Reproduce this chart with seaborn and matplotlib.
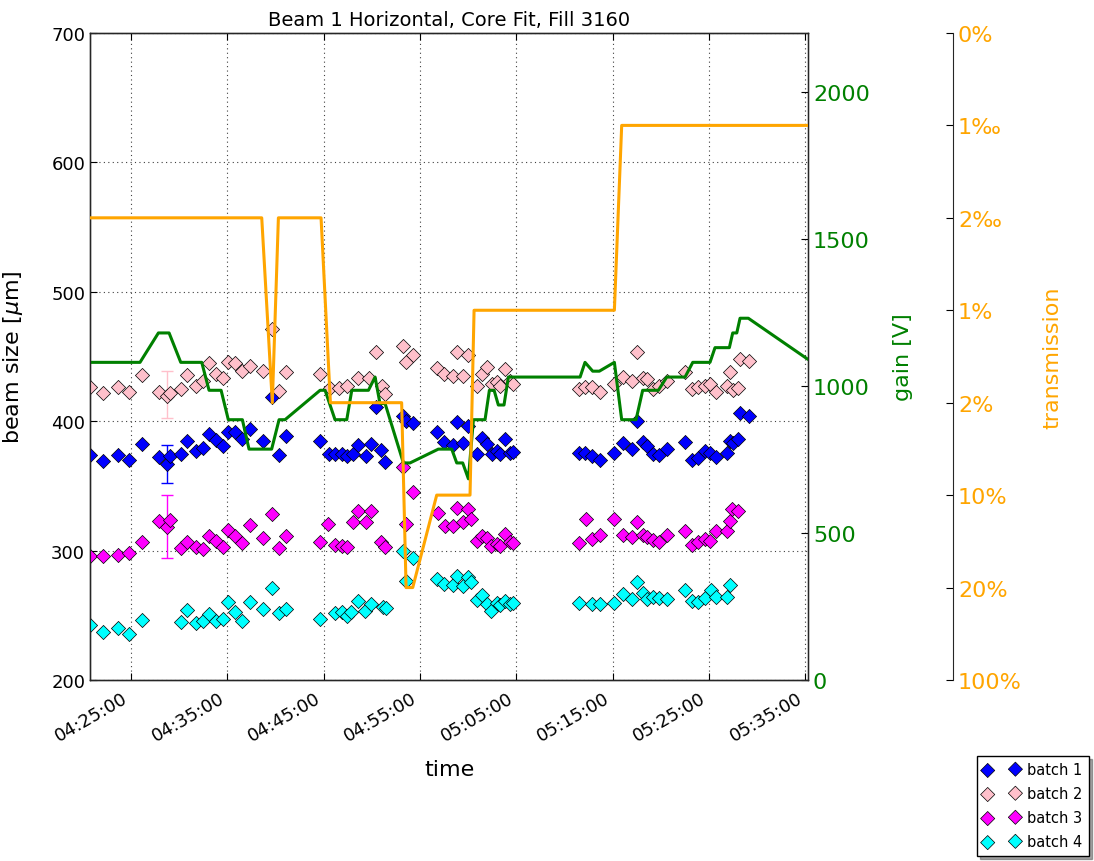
import numpy as np
import pandas as pd
import matplotlib
matplotlib.use("Agg")
import matplotlib.pyplot as plt
import matplotlib.dates as mdates
import seaborn as sns

# ---------------------------------------------------------------- data
START = pd.Timestamp("2012-10-15 04:25:00")

# minutes after 04:25:00 and fitted core beam size [um] per batch
b1_min = [-4.26, -2.87, -1.38, -0.20, 1.11, 2.90, 3.77, 4.05, 5.16, 5.85, 6.75, 7.44,
          8.13, 8.83, 9.52, 10.04, 10.80, 11.56, 12.36, 13.67, 14.60, 15.37, 16.10,
          19.63, 20.60, 21.18, 21.87, 22.40, 23.02, 23.60, 24.37, 24.92, 25.44, 25.96,
          26.38, 28.21, 28.56, 29.32, 31.81, 32.50, 33.47, 33.89, 34.51, 35.03, 35.90,
          36.42, 36.94, 37.46, 37.98, 38.32, 38.84, 39.36, 39.70, 46.55, 47.14, 47.84,
          48.70, 50.19, 51.06, 51.99, 52.58, 53.20, 53.62, 54.24, 54.86, 55.69, 57.53,
          58.22, 58.91, 59.60, 60.12, 60.75, 61.86, 62.20, 62.55, 63.06, 63.24, 64.21]
b1_size = [373.9, 369.5, 373.9, 370.2, 382.0, 372.0, 367.0, 372.9, 374.9, 384.7, 377.0, 379.0,
           390.0, 385.7, 380.6, 391.4, 391.9, 386.2, 394.0, 384.7, 418.4, 373.9, 388.8,
           384.7, 374.7, 374.7, 374.7, 372.9, 374.7, 381.9, 373.4, 382.4, 410.7, 378.0,
           368.7, 404.2, 400.4, 398.3, 391.4, 383.7, 381.9, 399.1, 383.2, 396.5, 374.7,
           386.8, 382.4, 374.7, 377.2, 374.7, 386.3, 375.2, 376.5, 375.2, 375.2, 373.4,
           370.0, 375.2, 382.9, 378.5, 399.9, 384.2, 381.1, 374.7, 374.1, 378.5, 384.2,
           370.0, 371.3, 376.7, 375.4, 372.6, 375.2, 384.9, 383.2, 386.2, 406.3, 403.7]

b2_min = [-4.26, -2.87, -1.38, -0.20, 1.11, 2.90, 3.77, 4.05, 5.16, 5.85, 6.75, 7.44,
          8.13, 8.83, 9.52, 10.04, 10.80, 11.56, 12.36, 13.67, 14.60, 15.37, 16.10,
          19.63, 20.70, 21.55, 22.40, 23.60, 24.75, 25.44, 26.10, 26.38, 28.21, 28.56,
          29.32, 31.81, 32.50, 33.47, 33.89, 34.51, 35.03, 35.90, 36.42, 36.94, 37.46,
          37.98, 38.32, 38.84, 39.36, 39.70, 46.55, 47.14, 47.84, 48.70, 50.19, 51.06,
          51.99, 52.58, 53.20, 53.62, 54.24, 54.86, 55.69, 57.53, 58.22, 58.91, 59.60,
          60.12, 60.75, 61.86, 62.20, 62.55, 63.06, 63.24, 64.21]
b2_size = [426.2, 421.8, 426.2, 422.8, 435.7, 422.8, 419.7, 421.8, 424.9, 435.7, 427.4, 431.3,
           444.7, 436.5, 433.2, 446.0, 444.7, 439.0, 442.9, 439.0, 471.3, 423.6, 437.8,
           436.5, 425.4, 425.4, 427.4, 433.4, 433.4, 453.8, 427.0, 421.0, 458.4, 445.6,
           450.8, 440.9, 436.5, 435.2, 453.8, 434.7, 450.8, 427.4, 436.5, 441.7, 428.7,
           430.0, 427.0, 440.3, 431.3, 428.7, 424.9, 426.2, 426.2, 422.8, 428.7, 433.9,
           431.3, 453.8, 433.2, 432.6, 424.9, 427.0, 431.3, 438.3, 424.9, 426.2, 427.0,
           428.7, 422.8, 427.4, 437.8, 424.3, 425.4, 448.1, 446.8]

b3_min = [-4.26, -2.87, -1.38, -0.20, 1.11, 2.90, 3.77, 4.05, 5.16, 5.85, 6.75, 7.44,
          8.13, 8.83, 9.52, 10.04, 10.80, 11.56, 12.36, 13.67, 14.60, 15.37, 16.10,
          19.63, 20.50, 21.18, 21.87, 22.40, 23.02, 23.60, 24.37, 24.92, 25.96, 26.38,
          28.21, 28.56, 29.32, 31.91, 32.60, 33.47, 33.89, 34.51, 35.03, 35.28, 35.90,
          36.42, 36.94, 37.36, 37.98, 38.32, 38.84, 39.36, 39.70, 46.55, 47.21, 47.84,
          48.70, 50.19, 51.06, 51.99, 52.58, 53.20, 53.62, 54.24, 54.86, 55.69, 57.53,
          58.22, 58.91, 59.60, 60.12, 60.75, 61.86, 62.20, 62.37, 63.06]
b3_size = [296.1, 295.6, 296.6, 297.9, 306.4, 322.6, 318.0, 323.6, 301.8, 306.9, 303.0, 301.2,
           311.0, 307.2, 302.5, 316.2, 311.0, 305.6, 320.0, 309.7, 328.3, 302.0, 311.0,
           306.4, 320.6, 304.3, 303.8, 302.5, 322.3, 330.8, 321.8, 330.3, 306.4, 302.5,
           364.4, 320.6, 345.5, 329.1, 318.8, 318.8, 332.9, 321.8, 332.1, 324.4, 307.7,
           311.6, 309.6, 303.8, 305.1, 303.8, 312.8, 306.4, 305.6, 305.6, 324.4, 309.0,
           312.0, 324.4, 312.3, 310.7, 321.8, 312.0, 310.7, 308.4, 306.9, 312.0, 315.4,
           304.3, 306.9, 309.0, 307.7, 314.9, 314.9, 323.1, 332.1, 330.8]

b4_min = [-4.26, -2.87, -1.38, -0.20, 1.11, 5.16, 5.85, 6.75, 7.44, 8.13, 8.83, 9.52,
          10.04, 10.80, 11.56, 12.36, 13.67, 14.60, 15.37, 16.10, 19.63, 21.18, 21.87,
          22.40, 22.86, 23.60, 24.30, 24.92, 26.20, 26.48, 28.21, 28.56, 29.32, 31.81,
          32.50, 33.47, 33.89, 34.51, 35.03, 35.28, 35.90, 36.42, 36.94, 37.36, 37.98,
          38.32, 38.84, 39.36, 39.70, 46.55, 47.84, 48.70, 50.19, 51.06, 51.99, 52.58,
          53.20, 53.62, 54.24, 54.86, 55.69, 57.53, 58.22, 58.91, 59.60, 60.18, 60.75,
          61.86, 62.20]
b4_size = [242.7, 236.8, 239.9, 235.5, 246.6, 244.6, 254.3, 244.0, 245.8, 251.2, 245.8, 247.1,
           260.0, 252.3, 245.8, 260.0, 254.9, 270.8, 251.8, 254.9, 247.1, 251.8, 252.9,
           249.8, 252.3, 261.3, 253.6, 258.7, 256.2, 255.4, 299.9, 276.3, 294.0, 278.0,
           274.2, 273.6, 280.6, 272.5, 279.4, 275.5, 261.8, 265.7, 258.7, 253.6, 259.8,
           258.0, 261.3, 258.7, 259.5, 259.3, 258.7, 258.7, 259.5, 266.5, 262.6, 275.5,
           267.2, 262.6, 263.9, 263.4, 262.6, 269.6, 261.3, 260.5, 263.1, 269.6, 264.4,
           264.4, 273.4]

batch_names = ["batch 1", "batch 2", "batch 3", "batch 4"]
batch_colors = ["#0000ff", "#ffc0cb", "#ff00ff", "#00ffff"]

# fit uncertainty shown for one measurement
err_min = 3.77
err_size = [367.2, 420.8, 318.6]
err_half = [14.6, 18.2, 24.3]

# detector gain [V]
gain_min = [-4.26, 0.93, 2.84, 3.95, 5.16, 7.34, 8.10, 9.35, 10.10, 11.56, 12.25, 14.60,
            15.37, 15.99, 19.63, 20.15, 21.18, 22.40, 22.92, 24.65, 25.34, 25.85, 26.38,
            28.28, 28.97, 31.91, 33.30, 33.82, 34.44, 35.03, 35.55, 36.76, 37.21, 37.70,
            38.14, 38.73, 39.18, 46.63, 47.14, 47.94, 48.63, 50.19, 50.95, 52.44, 53.13,
            54.76, 55.63, 57.53, 58.33, 60.12, 60.64, 62.13, 62.48, 62.90, 63.24, 64.10,
            70.30]
gain_volt = [1080, 1080, 1180, 1180, 1080, 1080, 985, 985, 885, 885, 785, 785,
             885, 885, 985, 985, 885, 885, 985, 985, 1030, 940, 940,
             738, 738, 785, 785, 738, 738, 684, 885, 885, 985, 985,
             935, 935, 1030, 1030, 1080, 1050, 1050, 1080, 885, 885, 985,
             985, 1030, 1030, 1080, 1080, 1130, 1130, 1180, 1180, 1230, 1230,
             1090]

# filter transmission setting
trans_ticks = ["0%", "1‰", "2‰", "1%", "2%", "10%", "20%", "100%"]
trans_min = [-4.26, 13.57, 14.67, 15.30, 19.73, 20.70, 28.10, 28.56, 29.25, 31.74,
             35.20, 35.62, 50.19, 50.95, 70.30]
trans_level = ["2‰", "2‰", "2%", "2‰", "2‰", "2%", "2%", "20%", "20%", "10%",
               "10%", "1%", "1%", "1‰", "1‰"]


def to_time(minutes):
    return START + pd.to_timedelta(np.asarray(minutes, dtype=float), unit="min")


# ---------------------------------------------------------------- style
sns.set_style("ticks")
plt.rcParams["font.family"] = ["DejaVu Sans"]
plt.rcParams["mathtext.fontset"] = "dejavusans"
plt.rcParams["text.color"] = "black"
plt.rcParams["axes.labelcolor"] = "black"
plt.rcParams["xtick.color"] = "black"
plt.rcParams["ytick.color"] = "black"

fig = plt.figure(figsize=(10.94, 8.62), dpi=100)
fig.patch.set_facecolor("white")
ax = fig.add_axes([0.0823, 0.2100, 0.6563, 0.7506])

# ---------------------------------------------------------------- beam sizes
batches = [(b1_min, b1_size), (b2_min, b2_size), (b3_min, b3_size), (b4_min, b4_size)]
for (tm, sz), name, col in zip(batches, batch_names, batch_colors):
    sns.scatterplot(x=to_time(tm), y=sz, ax=ax, marker="D", s=52, color=col,
                    edgecolor="black", linewidth=0.5, label=name, zorder=3, legend=False)

for val, half, col in zip(err_size, err_half, batch_colors[:3]):
    ax.errorbar(to_time([err_min]), [val], yerr=[half], fmt="none", ecolor=col,
                elinewidth=1.0, capsize=4, capthick=1.0, zorder=2)

ax.set_ylim(200, 700)
ax.set_yticks(np.arange(200, 701, 100))
ax.set_xlim(to_time([-4.26])[0], to_time([70.3])[0])
ax.xaxis.set_major_locator(mdates.MinuteLocator(byminute=[5, 15, 25, 35, 45, 55]))
ax.xaxis.set_major_formatter(mdates.DateFormatter("%H:%M:%S"))
ax.grid(True, linestyle=(0, (1, 3)), color="0.25", linewidth=0.8)
ax.tick_params(axis="both", direction="in", length=5, width=0.8, labelsize=13,
               top=True, colors="black")
ax.tick_params(axis="x", pad=6)
for lab in ax.get_xticklabels():
    lab.set_rotation(30)
    lab.set_ha("right")
for sp in ax.spines.values():
    sp.set_linewidth(1.0)
    sp.set_color("black")
ax.set_xlabel("time", fontsize=16, color="black")
ax.xaxis.set_label_coords(0.5, -0.122)
ax.set_ylabel(r"beam size [$\mu$m]", fontsize=16, color="black")
ax.yaxis.set_label_coords(-0.0905, 0.5)
ax.set_title("Beam 1 Horizontal, Core Fit, Fill 3160", fontsize=14, pad=6, color="black")

# ---------------------------------------------------------------- gain
gx = ax.twinx()
sns.lineplot(x=to_time(gain_min), y=gain_volt, ax=gx, color="green", linewidth=2.2,
             estimator=None, sort=False, zorder=4)
gx.set_ylim(0, 2200)
gx.set_yticks(np.arange(0, 2001, 500))
gx.tick_params(axis="y", direction="in", length=5, labelsize=16, labelcolor="green")
gx.set_ylabel("gain [V]", fontsize=16, color="green")
gx.yaxis.set_label_coords(1.118, 0.5)

# ---------------------------------------------------------------- transmission
tx = ax.twinx()
tx.spines["right"].set_position(("axes", 1.202))
tx.spines["right"].set_visible(True)
trans_idx = [trans_ticks.index(v) for v in trans_level]
sns.lineplot(x=to_time(trans_min), y=trans_idx, ax=tx, color="orange", linewidth=2.2,
             estimator=None, sort=False, zorder=4)
tx.set_ylim(len(trans_ticks) - 1, 0)
tx.set_yticks(range(len(trans_ticks)))
tx.set_yticklabels(trans_ticks)
tx.tick_params(axis="y", direction="in", length=5, labelsize=16, labelcolor="orange")
tx.set_ylabel("transmission", fontsize=16, color="orange")
tx.yaxis.set_label_coords(1.327, 0.5)

for a in (gx, tx):
    a.set_xlim(ax.get_xlim())
    a.set_xlabel("")

# ---------------------------------------------------------------- legend
handles, labels = ax.get_legend_handles_labels()
leg = ax.legend(handles, labels, loc="lower right", scatterpoints=2,
                bbox_to_anchor=(1089 / 1094, 5 / 862), bbox_transform=fig.transFigure,
                fontsize=10.5, frameon=True, fancybox=False, shadow=True,
                edgecolor="black", framealpha=1, labelspacing=0.62, borderpad=0.45,
                handletextpad=0.5, handlelength=2.5, borderaxespad=0.0)
leg.get_frame().set_linewidth(1.0)
leg.set_zorder(10)

fig.savefig("out.png", dpi=100)
